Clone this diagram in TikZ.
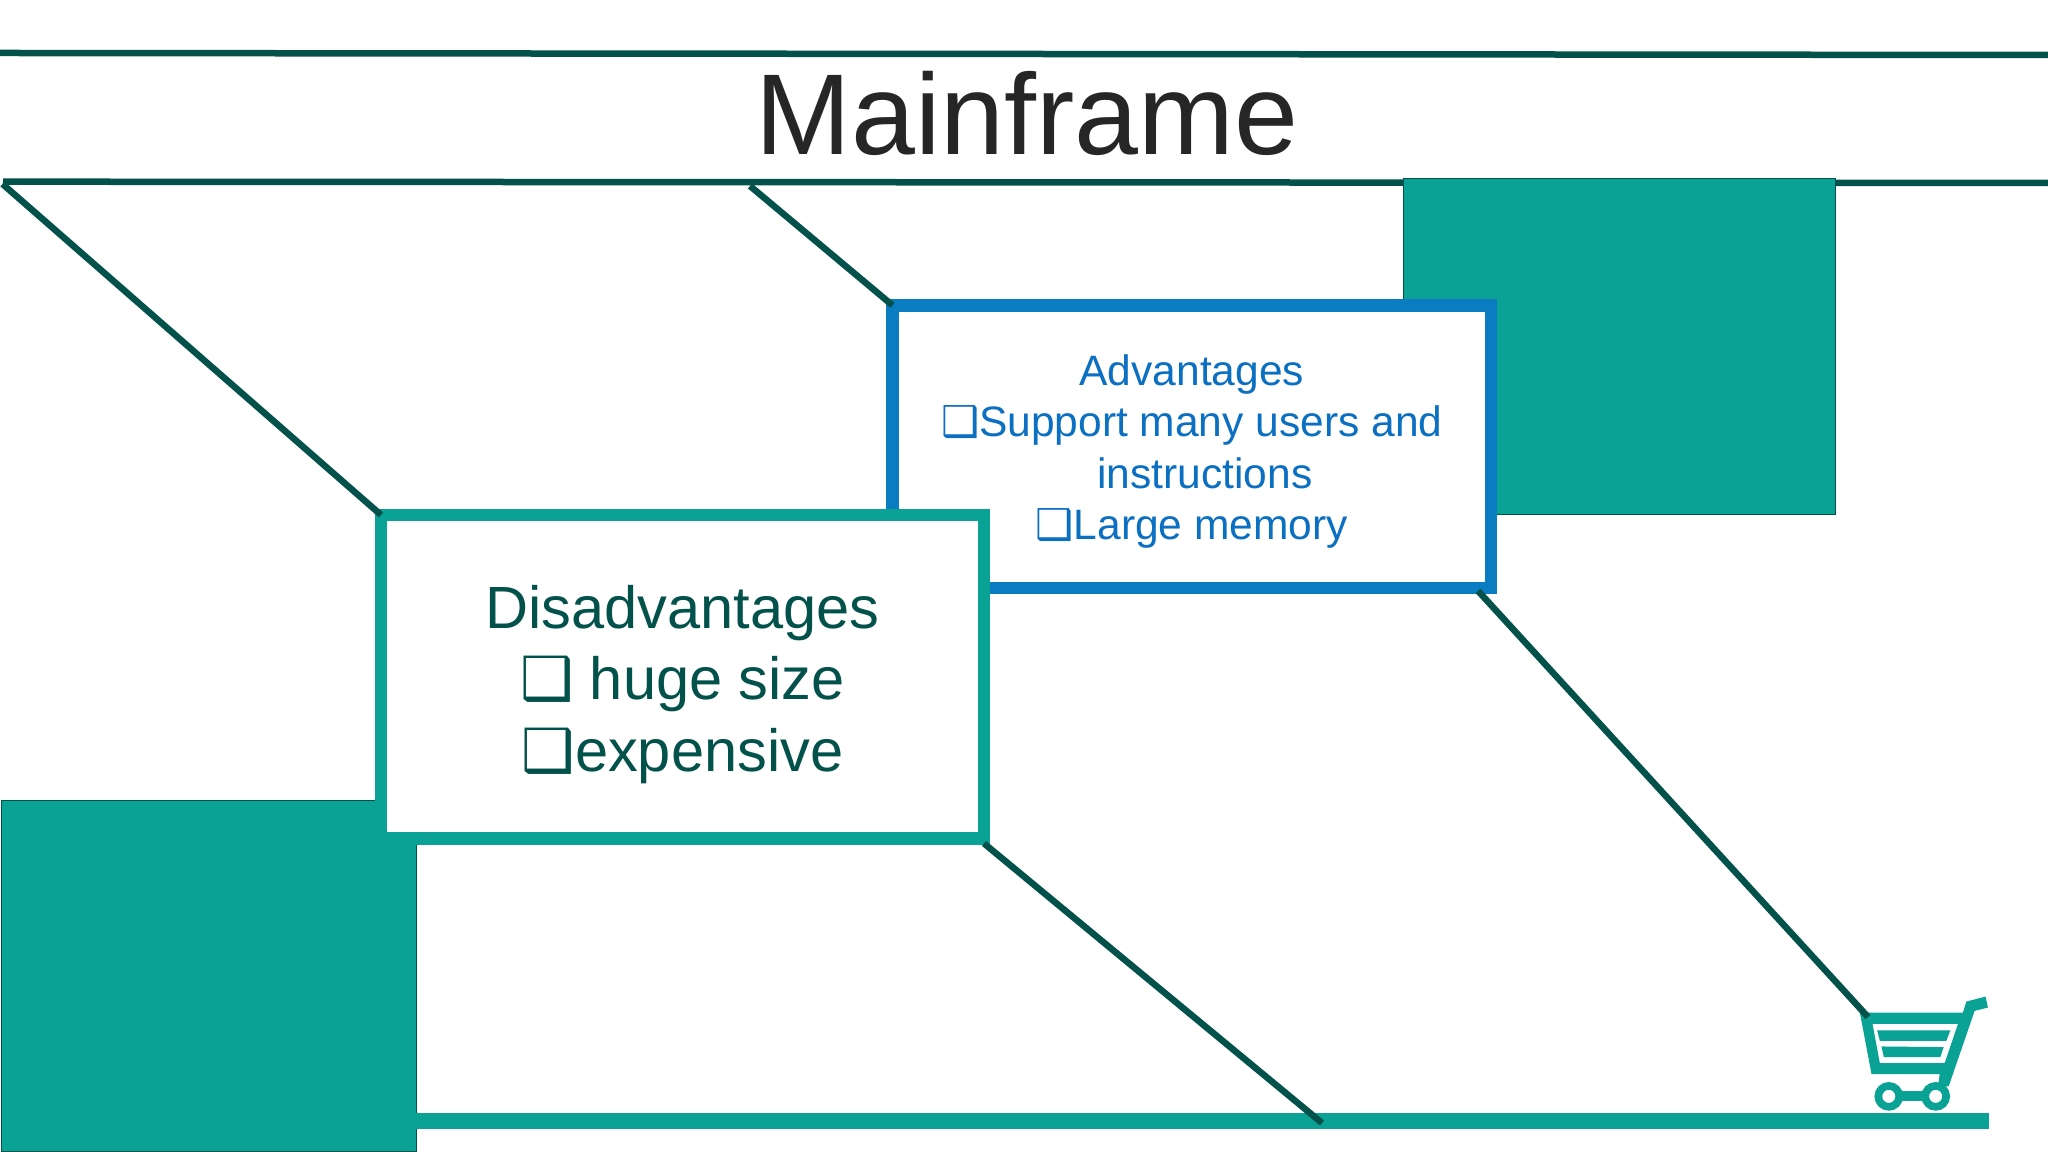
\documentclass[tikz,border=0pt]{standalone}
\usepackage{fontspec}
\setmainfont{Liberation Sans}
\newfontfamily\chkfont{DejaVu Sans}
\newcommand{\chkbox}{{\chkfont ❑}}
\definecolor{darkteal}{HTML}{02524B}
\definecolor{midteal}{HTML}{09A294}
\definecolor{boxblue}{HTML}{0A7CC1}
\definecolor{textblue}{HTML}{0B6FC2}
\definecolor{titlegray}{HTML}{262626}
\tikzset{
    rulestyle/.style={line width=0.065cm, draw=darkteal},
    slantstyle/.style={line width=0.065cm, draw=darkteal},
    squarestyle/.style={draw=darkteal, line width=0.01cm, fill=midteal, inner sep=0pt, outer sep=0pt},
    advstyle/.style={draw=boxblue, line width=0.125cm, fill=white, inner sep=0pt, outer sep=0pt, text=textblue, align=center, minimum width=5.985cm, minimum height=2.825cm, font=\fontsize{12.1}{14.6}\selectfont},
    disstyle/.style={draw=midteal, line width=0.125cm, fill=white, inner sep=0pt, outer sep=0pt, text=darkteal, align=center, minimum width=6.03cm, minimum height=3.235cm, font=\fontsize{16.95}{20.4}\selectfont},
}
\begin{document}
\begin{tikzpicture}
    \useasboundingbox (0,0) rectangle (20.48,11.52);

    % Marking the free ends of the lines
    \coordinate (topleft) at (0.000000,10.990000);
    \coordinate (topright) at (20.480000,10.970000);
    \coordinate (underleft) at (0.030000,9.703000);
    \coordinate (underright) at (20.480000,9.690000);
    \coordinate (slantone) at (0.025000,9.680000);
    \coordinate (slanttwo) at (7.500000,9.660000);
    \coordinate (cartcorner) at (18.680000,1.350000);
    \coordinate (barfoot) at (13.220000,0.290000);
    \coordinate (barend) at (19.887000,0.310000);

    % Drawing title and its two lines
    \draw (topleft) [rulestyle] -- (topright);%
    \draw (underleft) [rulestyle] -- (underright);%
    \node (title) [text=titlegray, font=\fontsize{32.7}{36}\selectfont] at (10.270000,10.390000) {Mainframe};%

    % Drawing green squares
    \node (rightsq) [squarestyle, minimum width=4.32cm, minimum height=3.36cm] at (16.190000,8.050000) {};%
    \node (leftsq) [squarestyle, minimum width=4.145cm, minimum height=3.51cm] at (2.090000,1.755000) {};%

    % Drawing bar under the cart
    \draw [line width=0.16cm, draw=midteal] (leftsq.east |- barend) -- (barend);%

    % Drawing boxes
    \node (advbox) [advstyle] at (11.917500,7.054000) {\rule{0pt}{11.6pt}Advantages\\\chkbox Support many users and\\\hspace*{0.26cm}instructions\\\chkbox Large memory};%
    \node (disbox) [disstyle] at (6.825000,4.753000) {\rule{0pt}{16.7pt}Disadvantages\\\chkbox{} huge size\\\chkbox expensive};%

    % Drawing cart
    \begin{scope}[shift={(18.000000,1.920000)}, x=0.003333cm, y=-0.003333cm]
        \fill [midteal, even odd rule] (180,158) -- (490,158) -- (500,125) -- (558,110) -- (565,143) -- (525,153) -- (447,380) -- (415,380) -- (420,343) -- (215,343) -- cycle
            (218,192) -- (475,192) -- (435,310) -- (240,310) -- cycle;%
        \fill [midteal] (232,212) -- (452,212) -- (440,243) -- (240,243) -- cycle;%
        \fill [midteal] (245,260) -- (432,262) -- (422,292) -- (252,292) -- cycle;%
        \draw [midteal, line width=0.1cm] (267,408) -- (408,408);%
        \draw [midteal, line width=0.0767cm, fill=white] (267,410) circle (31.5);%
        \draw [midteal, line width=0.0767cm, fill=white] (408,410) circle (31.5);%
    \end{scope}

    % Drawing slanted lines
    \draw [slantstyle] (slantone) -- (disbox.north west);%
    \draw [slantstyle] (slanttwo) -- (advbox.north west);%
    \draw [slantstyle] ([shift={(-0.13,-0.03)}]advbox.south east) -- (cartcorner);%
    \draw [slantstyle] ([yshift=-0.05cm]disbox.south east) -- (barfoot);%
\end{tikzpicture}
\end{document}
